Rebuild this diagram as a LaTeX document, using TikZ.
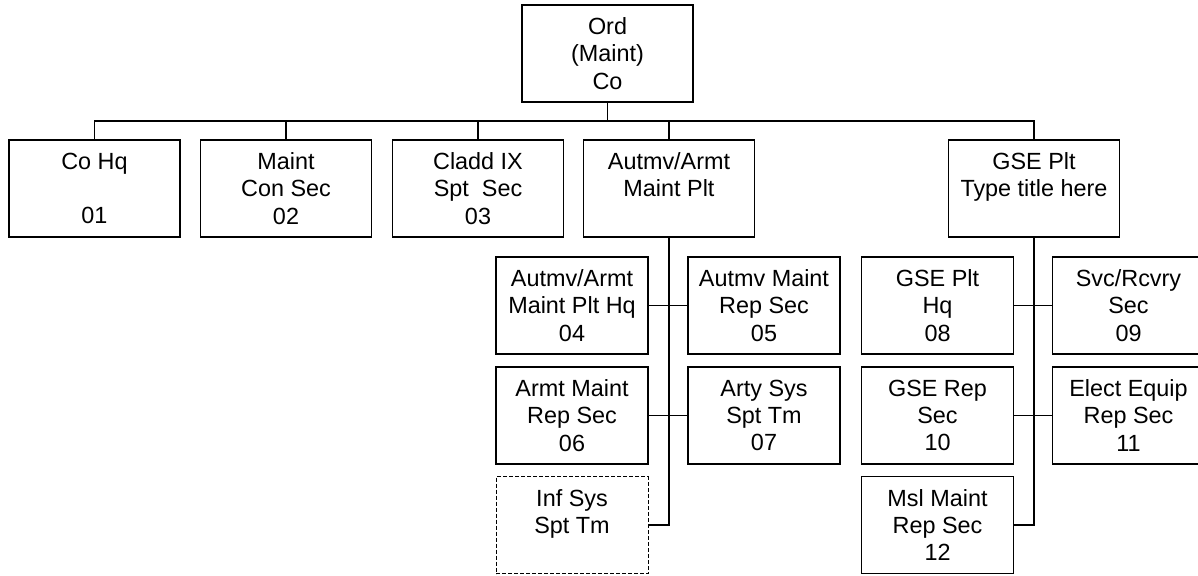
\documentclass[tikz,border=0pt]{standalone}
\usepackage{fontspec}
\setmainfont{Liberation Sans}
\usepackage{tikz}
\usetikzlibrary{positioning, calc}

\begin{document}
\begin{tikzpicture}[
    x=0.5pt, y=-0.5pt,
    unit/.style={rectangle, draw=black, line width=0.65pt, minimum width=#1, minimum height=48.5pt, inner sep=0pt, align=center, font=\fontsize{11.7}{13.6}\selectfont},
    unit/.default=85.5pt,
    tbd/.style={unit=76pt, line width=0.45pt, dash pattern=on 2pt off 1pt},
    bus/.style={line width=0.55pt},
    trunk/.style={line width=1pt},
]
\useasboundingbox (0,0) rectangle (1198,575);

% company and platoons
\node[unit] (ord) at (607.5,53.5) {Ord\\(Maint)\\Co};

\node[unit] (cohq) at (94.5,188.5) {Co Hq\\\mbox{}\\01};
\node[unit] (consec) at (286,188.5) {Maint\\Con Sec\\02};
\node[unit] (cladd) at (478,188.5) {Cladd IX\\Spt~ Sec\\03};
\node[unit] (autplt) at (669,188.5) {Autmv/Armt\\Maint Plt\\\mbox{}};
\node[unit] (gseplt) at (1034,188.5) {GSE Plt\\Type title here\\\mbox{}};

% Autmv/Armt sections
\node[unit=76pt] (autmvhq) at (572,305.5) {Autmv/Armt\\Maint Plt Hq\\04};
\node[unit=76pt] (autmvrep) at (764,305.5) {Autmv Maint\\Rep Sec\\05};
\node[unit=76pt] (armtrep) at (572,415.5) {Armt Maint\\Rep Sec\\06};
\node[unit=76pt] (artytm) at (764,415.5) {Arty Sys\\Spt Tm\\07};
\node[tbd] (inftm) at (572,525) {Inf Sys\\Spt Tm\\\mbox{}};

% GSE sections
\node[unit=76pt] (gsehq) at (937.5,305.5) {GSE Plt\\Hq\\08};
\node[unit=76pt] (svcsec) at (1128.5,305.5) {Svc/Rcvry\\Sec\\09};
\node[unit=76pt] (gserep) at (937.5,415.5) {GSE Rep\\Sec\\10};
\node[unit=76pt] (electrep) at (1128.5,415.5) {Elect Equip\\Rep Sec\\11};
\node[unit=76pt] (mslrep) at (937.5,525) {Msl Maint\\Rep Sec\\12};

% connectors
\coordinate (busmid) at (607.5,121);
\draw[bus] (ord.south) -- (busmid);
\foreach \n in {cohq, consec, cladd, autplt, gseplt}
    \draw[bus] (\n.north) |- (busmid);

\draw[trunk] (autplt.south) |- (inftm.east);
\draw[bus] (autmvhq.east) -- (autmvrep.west);
\draw[bus] (armtrep.east) -- (artytm.west);

\draw[trunk] (gseplt.south) |- (mslrep.east);
\draw[bus] (gsehq.east) -- (svcsec.west);
\draw[bus] (gserep.east) -- (electrep.west);

\end{tikzpicture}
\end{document}
